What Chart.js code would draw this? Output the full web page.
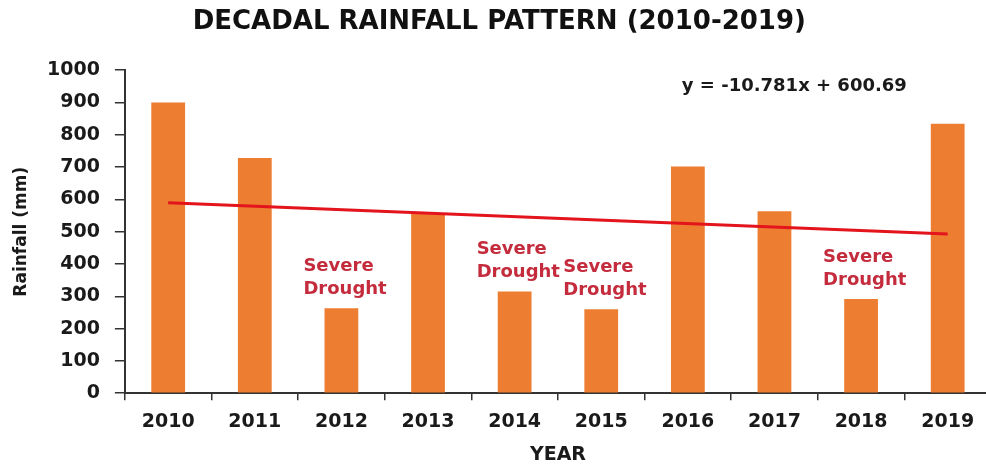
<!DOCTYPE html>
<html>
<head>
<meta charset="utf-8">
<script src="https://cdn.jsdelivr.net/npm/chart.js@4.4.1/dist/chart.umd.min.js"></script>
<style>
body{margin:0;background:#fff;overflow:hidden;}
#wrap{width:992px;height:465px;}
</style>
</head>
<body>
<div id="wrap"><canvas id="rainChart" width="992" height="465"></canvas></div>
<script>
const years = ["2010","2011","2012","2013","2014","2015","2016","2017","2018","2019"];
const rainfall = [900, 728, 263, 557, 315, 260, 702, 563, 292, 834];
// linear trend y = -10.781x + 600.69, endpoints at x = 1 and x = 10
const trend = [589.91, null, null, null, null, null, null, null, null, 492.88];
const droughtYears = ["2012","2014","2015","2018"];
const yTicks = [0,100,200,300,400,500,600,700,800,900,1000];
const equationText = "y = -10.781x + 600.69";

const FONT = "'DejaVu Sans', sans-serif";

// red "Severe Drought" notes above the dry years, plus the trend equation
const notes = {
id:"notes",
afterDatasetsDraw(chart){
const ctx = chart.ctx;
const x = chart.scales.x;
const y = chart.scales.y;
ctx.save();
ctx.font = "bold 18px " + FONT;
ctx.fillStyle = "#c42b3c";
ctx.textAlign = "left";
ctx.textBaseline = "middle";
droughtYears.forEach(yr => {
let i = years.indexOf(yr);
let px = x.getPixelForValue(i) - 38;
let top = y.getPixelForValue(rainfall[i]);
ctx.fillText("Severe", px, top - 42);
ctx.fillText("Drought", px, top - 19);
});
ctx.font = "bold 18px " + FONT;
ctx.fillStyle = "#1a1a1a";
ctx.fillText(equationText, x.getPixelForValue(6) - 6, y.getPixelForValue(950));
ctx.restore();
}
};

new Chart(document.getElementById("rainChart"),{
data:{
labels:years,
datasets:[
{
type:"line",
label:"Trend",
data:trend,
spanGaps:true,
borderColor:"#e3141c",
borderWidth:3,
pointRadius:0,
order:0
},
{
type:"bar",
label:"Rainfall",
data:rainfall,
backgroundColor:"#ed7d31",
barPercentage:0.39,
categoryPercentage:1,
order:1
}
]
},
options:{
responsive:false,
animation:false,
layout:{padding:{left:7.6,right:1,top:0,bottom:0}},
plugins:{
legend:{display:false},
tooltip:{enabled:false},
title:{
display:true,
text:"DECADAL RAINFALL PATTERN (2010-2019)",
color:"#111",
font:{family:FONT,size:26,weight:"bold"},
padding:{top:7,bottom:32}
}
},
scales:{
x:{
grid:{drawOnChartArea:false,drawTicks:true,tickLength:7,color:"#333",lineWidth:1.5},
border:{display:true,color:"#333",width:2},
ticks:{color:"#1a1a1a",font:{family:FONT,size:19,weight:"bold"},padding:10},
title:{display:true,text:"YEAR",color:"#1a1a1a",font:{family:FONT,size:19,weight:"bold",lineHeight:1},padding:{top:3,bottom:0}}
},
y:{
min:0,
max:1000,
afterBuildTicks(axis){ axis.ticks = yTicks.map(v => ({value:v})); },
grid:{drawOnChartArea:false,drawTicks:true,tickLength:10,color:"#333",lineWidth:1.5},
border:{display:true,color:"#333",width:2},
ticks:{color:"#1a1a1a",font:{family:FONT,size:19,weight:"bold"},padding:15,callback:v => String(v)},
title:{display:true,text:"Rainfall (mm)",color:"#1a1a1a",font:{family:FONT,size:17,weight:"bold"},padding:{top:4,bottom:0}}
}
}
},
plugins:[notes]
});
</script>
</body>
</html>
